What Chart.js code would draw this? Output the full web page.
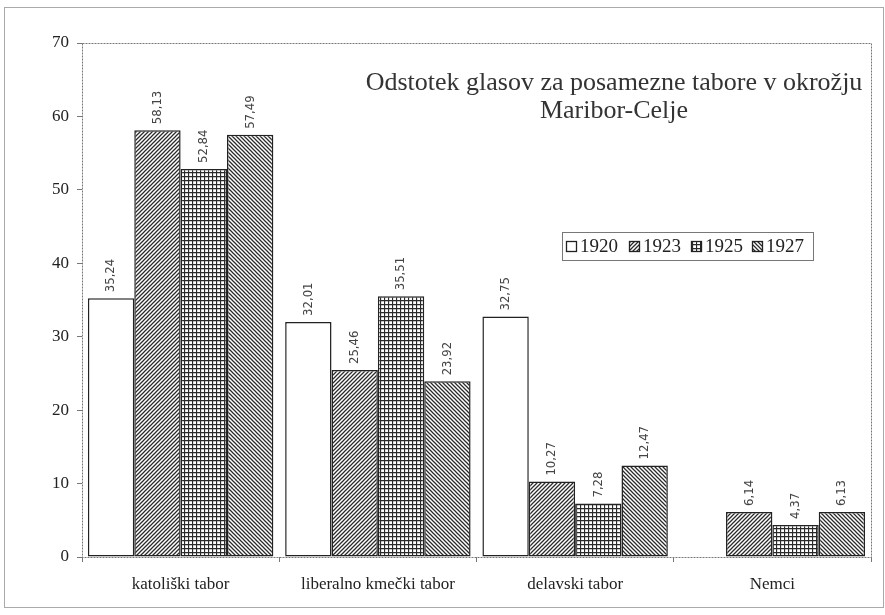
<!DOCTYPE html>
<html>
<head>
<meta charset="utf-8">
<script src="https://cdn.jsdelivr.net/npm/chart.js@4.4.1/dist/chart.umd.min.js"></script>
<style>
  html, body { margin: 0; padding: 0; background: #fff; }
  #wrap { position: relative; width: 885px; height: 615px; }
</style>
</head>
<body>
<div id="wrap"><canvas id="c" width="885" height="615"></canvas></div>
<script>
// data
const categories = ["katoliški tabor", "liberalno kmečki tabor", "delavski tabor", "Nemci"];
const years = ["1920", "1923", "1925", "1927"];
const v1920 = [35.24, 32.01, 32.75, null];
const v1923 = [58.13, 25.46, 10.27, 6.14];
const v1925 = [52.84, 35.51, 7.28, 4.37];
const v1927 = [57.49, 23.92, 12.47, 6.13];
const yMax = 70;
const yStep = 10;
const titleLines = ["Odstotek glasov za posamezne tabore v okrožju", "Maribor-Celje"];

const SERIF = "'Liberation Serif', 'Times New Roman', serif";

// hatch patterns
function makePattern(kind) {
  const size = 4;
  const c = document.createElement("canvas");
  c.width = size; c.height = size;
  const g = c.getContext("2d");
  g.fillStyle = "#fff";
  g.fillRect(0, 0, size, size);
  g.strokeStyle = "#2a2a2a";
  g.lineWidth = 1.25;
  g.beginPath();
  if (kind === "slash") {
    g.moveTo(0, size); g.lineTo(size, 0);
    g.moveTo(-1, 1); g.lineTo(1, -1);
    g.moveTo(size - 1, size + 1); g.lineTo(size + 1, size - 1);
  } else if (kind === "back") {
    g.moveTo(0, 0); g.lineTo(size, size);
    g.moveTo(size - 1, -1); g.lineTo(size + 1, 1);
    g.moveTo(-1, size - 1); g.lineTo(1, size + 1);
  } else {
    g.moveTo(0.5, 0); g.lineTo(0.5, size);
    g.moveTo(0, 0.5); g.lineTo(size, 0.5);
  }
  g.stroke();
  return g.createPattern(c, "repeat");
}

const ctx = document.getElementById("c").getContext("2d");
const fills = ["#ffffff", makePattern("slash"), makePattern("grid"), makePattern("back")];

// frame, plot border, title, legend
const framePlugin = {
  id: "frame",
  beforeDraw(chart) {
    const g = chart.ctx, a = chart.chartArea;
    g.save();
    g.fillStyle = "#fff";
    g.fillRect(0, 0, chart.width, chart.height);
    g.strokeStyle = "#aaa";
    g.lineWidth = 1;
    g.strokeRect(4.5, 7.5, 879, 600);
    g.strokeStyle = "#777";
    g.setLineDash([2, 1]);
    g.strokeRect(a.left + 0.5, a.top + 0.5, a.right - a.left, a.bottom - a.top);
    g.restore();
  },
  afterDraw(chart) {
    const g = chart.ctx;
    g.save();
    g.fillStyle = "#333";
    g.font = "26px " + SERIF;
    g.textAlign = "center";
    g.textBaseline = "middle";
    g.fillText(titleLines[0], 614, 83);
    g.fillText(titleLines[1], 614, 111);

    // legend
    g.fillStyle = "#fff";
    g.fillRect(562, 232, 251, 28);
    g.strokeStyle = "#777";
    g.lineWidth = 1;
    g.strokeRect(562.5, 232.5, 251, 28);
    const xs = [566, 629, 691, 752];
    chart.data.datasets.forEach((ds, i) => {
      g.fillStyle = ds.backgroundColor;
      g.fillRect(xs[i], 241, 10, 10);
      g.strokeStyle = "#222";
      g.lineWidth = 1.3;
      g.strokeRect(xs[i] + 0.5, 241.5, 10, 10);
      g.fillStyle = "#222";
      g.font = "19px " + SERIF;
      g.textAlign = "left";
      g.textBaseline = "middle";
      g.fillText(ds.label, xs[i] + 14, 247);
    });
    g.restore();
  }
};

// rotated value labels above bars
const valuePlugin = {
  id: "values",
  afterDatasetsDraw(chart) {
    const g = chart.ctx;
    g.save();
    g.fillStyle = "#444";
    g.font = "13px 'DejaVu Sans Condensed', 'DejaVu Sans', sans-serif";
    g.textAlign = "left";
    g.textBaseline = "middle";
    chart.data.datasets.forEach((ds, i) => {
      chart.getDatasetMeta(i).data.forEach((bar, j) => {
        const v = ds.data[j];
        if (v === null) return;
        g.save();
        g.translate(bar.x, bar.y - 6);
        g.rotate(-Math.PI / 2);
        g.fillText(v.toFixed(2).replace(".", ","), 0, 0);
        g.restore();
      });
    });
    g.restore();
  }
};

new Chart(ctx, {
  type: "bar",
  data: {
    labels: categories,
    datasets: [v1920, v1923, v1925, v1927].map((d, i) => ({
      label: years[i],
      data: d,
      backgroundColor: fills[i],
      borderColor: "#222",
      borderWidth: 1.5,
      borderSkipped: false,
      categoryPercentage: 0.94,
      barPercentage: 1.0
    }))
  },
  options: {
    responsive: false,
    animation: false,
    layout: { padding: { top: 43, right: 14, left: 0, bottom: 0 } },
    plugins: {
      legend: { display: false },
      tooltip: { enabled: false }
    },
    scales: {
      x: {
        afterFit(s) { s.height = 58; },
        grid: { offset: true, drawOnChartArea: false, tickLength: 5, color: "#777" },
        border: { display: false },
        ticks: { color: "#222", font: { family: SERIF, size: 17 }, padding: 12 }
      },
      y: {
        min: 0,
        max: yMax,
        afterFit(s) { s.width = 82; },
        grid: { drawOnChartArea: false, tickLength: 5, color: "#777" },
        border: { display: false },
        ticks: { stepSize: yStep, color: "#222", font: { family: SERIF, size: 17 }, padding: 8 }
      }
    }
  },
  plugins: [framePlugin, valuePlugin]
});
</script>
</body>
</html>
